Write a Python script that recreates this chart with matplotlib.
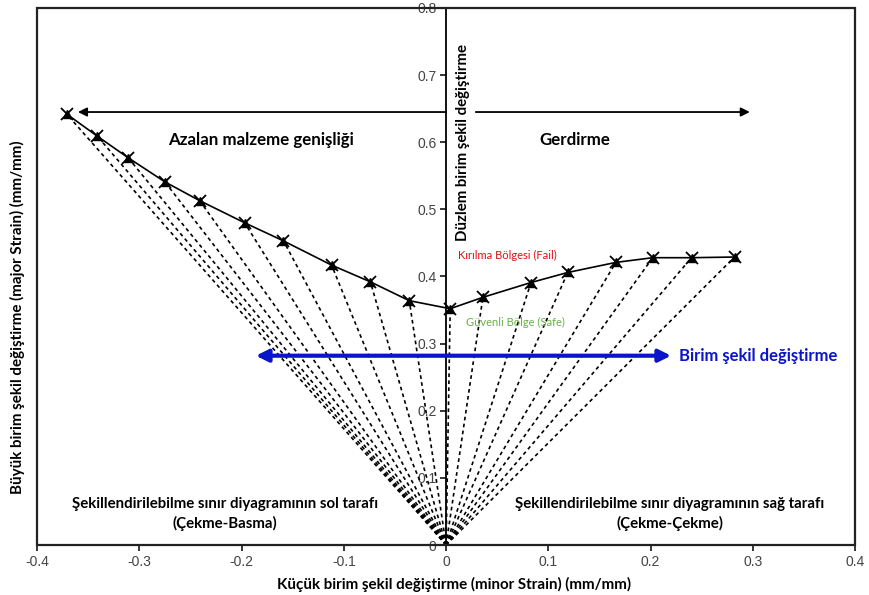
import matplotlib
matplotlib.use("Agg")
import matplotlib.pyplot as plt
from matplotlib.patches import Rectangle

plt.rcParams['font.family'] = ['Lato', 'DejaVu Sans']

# Forming limit points (minor strain, major strain)
minor_strain = [-0.371, -0.341, -0.311, -0.275, -0.241, -0.197, -0.159, -0.112, -0.074, -0.036,
                0.004, 0.036, 0.083, 0.119, 0.166, 0.202, 0.240, 0.282]
major_strain = [0.642, 0.609, 0.577, 0.541, 0.513, 0.480, 0.453, 0.417, 0.392, 0.364,
                0.352, 0.369, 0.391, 0.406, 0.421, 0.428, 0.428, 0.429]

x_ticks = [-0.4, -0.3, -0.2, -0.1, 0, 0.1, 0.2, 0.3, 0.4]
x_tick_labels = ['-0.4', '-0.3', '-0.2', '-0.1', '0', '0.1', '0.2', '0.3', '0.4']
y_ticks = [0, 0.1, 0.2, 0.3, 0.4, 0.5, 0.6, 0.7, 0.8]
y_tick_labels = ['0', '0.1', '0.2', '0.3', '0.4', '0.5', '0.6', '0.7', '0.8']

origin = (0.0, 0.0)
arrow_y = 0.645
left_arrow_end = -0.36
right_arrow = (0.029, 0.297)
blue_arrow_y = 0.282
blue_arrow = (-0.186, 0.220)

fig = plt.figure(figsize=(8.69, 5.95), dpi=100)
ax = fig.add_axes([0.0426, 0.084, 0.9415, 0.9026])
ax.set_xlim(-0.4, 0.4)
ax.set_ylim(0, 0.8)

# strain paths
for xs, ys in zip(minor_strain, major_strain):
    ax.plot([origin[0], xs], [origin[1], ys], color='black', lw=1.2,
            linestyle=(0, (2.2, 2.0)), zorder=2)

# FLC
ax.plot(minor_strain, major_strain, color='black', lw=1.2, zorder=3)
ax.plot(minor_strain, major_strain, linestyle='none', marker='^', ms=5.5,
        color='black', zorder=4)
ax.plot(minor_strain, major_strain, linestyle='none', marker='x', ms=8.5,
        mew=1.3, color='black', zorder=4)

# spines
for s in ['top', 'right', 'bottom']:
    ax.spines[s].set_visible(False)
ax.spines['left'].set_position(('data', 0))
ax.spines['left'].set_linewidth(1.3)
ax.add_patch(Rectangle((0, 0), 1, 1, transform=ax.transAxes, fill=False,
                       lw=1.6, edgecolor='#222222', clip_on=False, zorder=5))

ax.set_xticks(x_ticks)
ax.set_xticklabels(x_tick_labels)
ax.set_yticks(y_ticks)
ax.set_yticklabels(y_tick_labels)
ax.tick_params(axis='both', labelsize=10, labelcolor='#444444', length=4,
               width=1.1, direction='out', pad=3)
for lab in ax.get_xticklabels() + ax.get_yticklabels():
    lab.set_family(['Liberation Sans', 'DejaVu Sans'])

# arrows
ax.annotate('', xy=(left_arrow_end, arrow_y), xytext=(0, arrow_y),
            arrowprops=dict(arrowstyle='-|>', color='black', lw=1.3,
                            mutation_scale=13, shrinkA=0, shrinkB=0))
ax.annotate('', xy=(right_arrow[1], arrow_y), xytext=(right_arrow[0], arrow_y),
            arrowprops=dict(arrowstyle='-|>', color='black', lw=1.3,
                            mutation_scale=13, shrinkA=0, shrinkB=0))
ax.annotate('', xy=(blue_arrow[0], blue_arrow_y), xytext=(blue_arrow[1], blue_arrow_y),
            arrowprops=dict(arrowstyle='<|-|>', color='#0a14c8', lw=3,
                            mutation_scale=18, shrinkA=0, shrinkB=0), zorder=6)

# texts
ax.text(-0.181, 0.604, 'Azalan malzeme genişliği', fontsize=12.2, fontweight='bold',
        ha='center', va='center')
ax.text(0.1257, 0.604, 'Gerdirme', fontsize=12.2, fontweight='bold',
        ha='center', va='center')
ax.text(0.0166, 0.6, 'Düzlem birim şekil değiştirme', fontsize=10.8, fontweight='bold',
        rotation=90, ha='center', va='center')
ax.text(0.0117, 0.431, 'Kırılma Bölgesi (Fail)', fontsize=8, color='#e01010',
        ha='left', va='center')
ax.text(0.0198, 0.331, 'Güvenli Bölge (Safe)', fontsize=8, color='#6ab04c',
        ha='left', va='center')
ax.text(0.228, blue_arrow_y, 'Birim şekil değiştirme', fontsize=12, fontweight='bold',
        color='#0a14c8', ha='left', va='center')
ax.text(-0.216, 0.046, 'Şekillendirilebilme sınır diyagramının sol tarafı\n(Çekme-Basma)',
        fontsize=10.8, fontweight='bold', ha='center', va='center', linespacing=1.45)
ax.text(0.219, 0.046, 'Şekillendirilebilme sınır diyagramının sağ tarafı\n(Çekme-Çekme)',
        fontsize=10.8, fontweight='bold', ha='center', va='center', linespacing=1.45)

ax.set_xlabel('Küçük birim şekil değiştirme (minor Strain) (mm/mm)', fontsize=10.9,
              fontweight='bold')
ax.xaxis.set_label_coords(0.51, -0.060)
ax.set_ylabel('Büyük birim şekil değiştirme (major Strain) (mm/mm)', fontsize=10.9,
              fontweight='bold')
ax.yaxis.set_label_coords(-0.0147, 0.425)

fig.savefig('out.png', dpi=100)
